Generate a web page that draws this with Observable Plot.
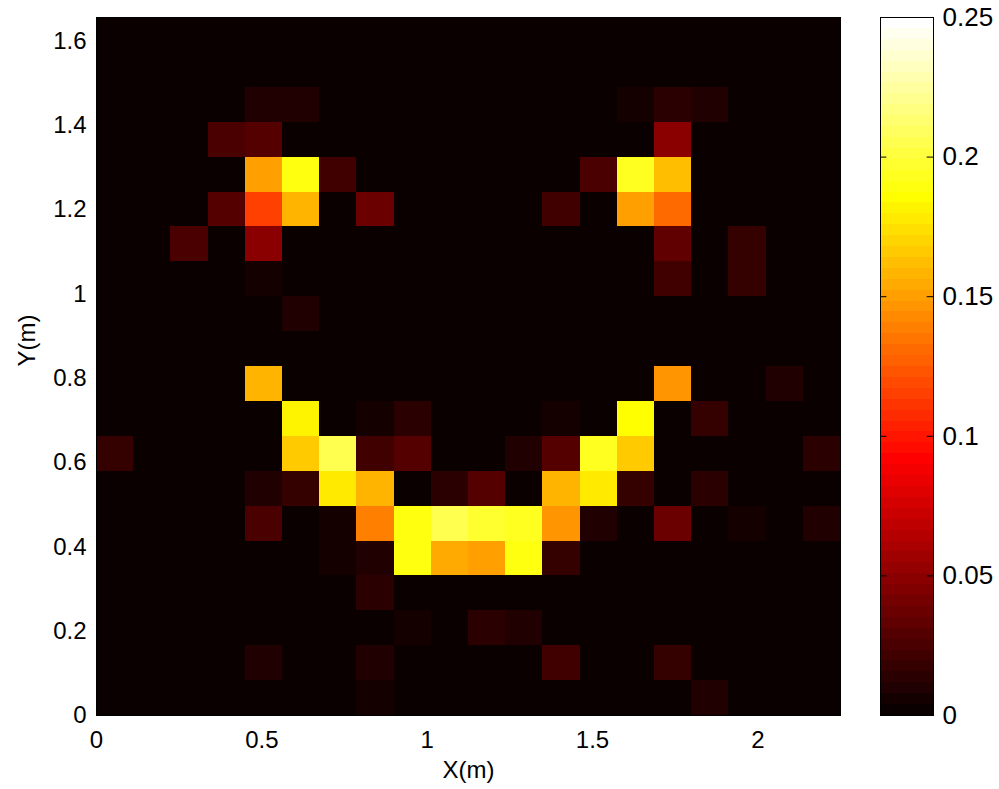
<!DOCTYPE html>
<html><head><meta charset="utf-8">
<script src="https://cdn.jsdelivr.net/npm/d3@7"></script>
<script src="https://cdn.jsdelivr.net/npm/@observablehq/plot@0.6"></script>
<style>
body{margin:0;background:#fff;}
#wrap{position:relative;width:999px;height:789px;}
#wrap svg{position:absolute;top:0;}
</style></head><body><div id="wrap"></div>
<script>
// Grid extents
const xMax = 2.25, yMax = 1.656;
const nCols = 20, nRows = 20;
const xTicks = [0, 0.5, 1, 1.5, 2];
const yTicks = [0, 0.2, 0.4, 0.6, 0.8, 1, 1.2, 1.4, 1.6];
const cbTicks = [0, 0.05, 0.1, 0.15, 0.2, 0.25];
const cMax = 0.25;
const xLabel = "X(m)", yLabel = "Y(m)";

// Cell values, one array per row (row00 = bottom row), columns left to right
const row00 = [0,0,0,0,0,0,0,0.004,0,0,0,0,0,0,0,0,0.011,0,0,0];
const row01 = [0,0,0,0,0.011,0,0,0.008,0,0,0,0,0.023,0,0,0.017,0,0,0,0];
const row02 = [0,0,0,0,0,0,0,0,0.006,0,0.014,0.008,0,0,0,0,0,0,0,0];
const row03 = [0,0,0,0,0,0,0,0.014,0,0,0,0,0,0,0,0,0,0,0,0];
const row04 = [0,0,0,0,0,0,0.006,0.011,0.189,0.154,0.149,0.189,0.017,0,0,0,0,0,0,0];
const row05 = [0,0,0,0,0.025,0,0.006,0.139,0.189,0.206,0.197,0.193,0.148,0.008,0,0.036,0,0.006,0,0.011];
const row06 = [0,0,0,0,0.011,0.017,0.176,0.159,0,0.014,0.029,0,0.159,0.176,0.017,0,0.014,0,0,0];
const row07 = [0.017,0,0,0,0,0.167,0.205,0.023,0.031,0,0,0.011,0.031,0.195,0.167,0,0,0,0,0.014];
const row08 = [0,0,0,0,0,0.180,0,0.006,0.014,0,0,0,0.006,0,0.186,0,0.017,0,0,0];
const row09 = [0,0,0,0,0.158,0,0,0,0,0,0,0,0,0,0,0.145,0,0,0.011,0];
const row10 = [0,0,0,0,0,0,0,0,0,0,0,0,0,0,0,0,0,0,0,0];
const row11 = [0,0,0,0,0,0.011,0,0,0,0,0,0,0,0,0,0,0,0,0,0];
const row12 = [0,0,0,0,0.006,0,0,0,0,0,0,0,0,0,0,0.023,0,0.017,0,0];
const row13 = [0,0,0.025,0,0.049,0,0,0,0,0,0,0,0,0,0,0.035,0,0.017,0,0];
const row14 = [0,0,0,0.029,0.115,0.157,0,0.037,0,0,0,0,0.023,0,0.150,0.129,0,0,0,0];
const row15 = [0,0,0,0,0.150,0.189,0.023,0,0,0,0,0,0,0.027,0.193,0.161,0,0,0,0];
const row16 = [0,0,0,0.025,0.030,0,0,0,0,0,0,0,0,0,0,0.048,0,0,0,0];
const row17 = [0,0,0,0,0.008,0.008,0,0,0,0,0,0,0,0,0.006,0.014,0.010,0,0,0];
const row18 = [0,0,0,0,0,0,0,0,0,0,0,0,0,0,0,0,0,0,0,0];
const row19 = [0,0,0,0,0,0,0,0,0,0,0,0,0,0,0,0,0,0,0,0];

const rows = [row00,row01,row02,row03,row04,row05,row06,row07,row08,row09,
              row10,row11,row12,row13,row14,row15,row16,row17,row18,row19];
const dx = xMax / nCols, dy = yMax / nRows;
const cells = [];
rows.forEach((row, r) => row.forEach((v, c) => cells.push({c, r, v})));

// MATLAB "hot" colormap, 64 levels
const hot = d3.range(64).map(i => {
  const k = i + 1;
  const r = Math.min(k / 24, 1);
  const g = Math.max(0, Math.min((k - 24) / 24, 1));
  const b = Math.max(0, Math.min((k - 48) / 16, 1));
  return d3.rgb(r * 255, g * 255, b * 255).formatHex();
});
const thresholds = d3.range(1, 64).map(i => i * cMax / 64);
const colorScale = {type: "threshold", domain: thresholds, range: hot};
const bands = d3.range(64).map(i => ({lo: i * cMax / 64, hi: (i + 1) * cMax / 64}));

const font = "'Liberation Sans', Arial, Helvetica, sans-serif";
const fmt = d => String(d);

const main = Plot.plot({
  width: 860, height: 789,
  marginLeft: 96, marginRight: 20, marginTop: 17, marginBottom: 74,
  x: {domain: [0, xMax]},
  y: {domain: [0, yMax]},
  color: colorScale,
  style: {fontFamily: font, fontSize: "24px", color: "black", background: "white", overflow: "visible"},
  marks: [
    Plot.rect(cells, {
      x1: d => d.c * dx, x2: d => (d.c + 1) * dx,
      y1: d => d.r * dy, y2: d => (d.r + 1) * dy,
      fill: "v", shapeRendering: "crispEdges"
    }),
    Plot.frame({stroke: "black"}),
    Plot.axisX({ticks: xTicks, tickSize: 0, tickPadding: 15, tickFormat: fmt, label: null}),
    Plot.axisY({ticks: yTicks, tickSize: 0, tickPadding: 10, tickFormat: fmt, label: null}),
    Plot.text([xLabel], {text: d => d, frameAnchor: "bottom", dy: 62, fill: "black"}),
    Plot.text([yLabel], {text: d => d, frameAnchor: "left", dx: -69, rotate: -90, fill: "black"})
  ]
});

const cb = Plot.plot({
  width: 139, height: 789,
  marginLeft: 20, marginRight: 66, marginTop: 17, marginBottom: 74,
  x: {domain: [0, 1], axis: null},
  y: {domain: [0, cMax]},
  color: colorScale,
  style: {fontFamily: font, fontSize: "26px", color: "black", background: "transparent", overflow: "visible"},
  marks: [
    Plot.rect(bands, {x1: 0, x2: 1, y1: "lo", y2: "hi", fill: d => (d.lo + d.hi) / 2, shapeRendering: "crispEdges"}),
    Plot.ruleY(cbTicks, {y: d => d, x1: 0, x2: 0.12, stroke: "black"}),
    Plot.ruleY(cbTicks, {y: d => d, x1: 0.88, x2: 1, stroke: "black"}),
    Plot.frame({stroke: "black"}),
    Plot.axisY({anchor: "right", ticks: cbTicks, tickSize: 0, tickPadding: 9, label: null, tickFormat: fmt})
  ]
});

const wrap = document.getElementById("wrap");
main.style.left = "0px";
cb.style.left = "860px";
wrap.appendChild(main);
wrap.appendChild(cb);
</script>
</body></html>
